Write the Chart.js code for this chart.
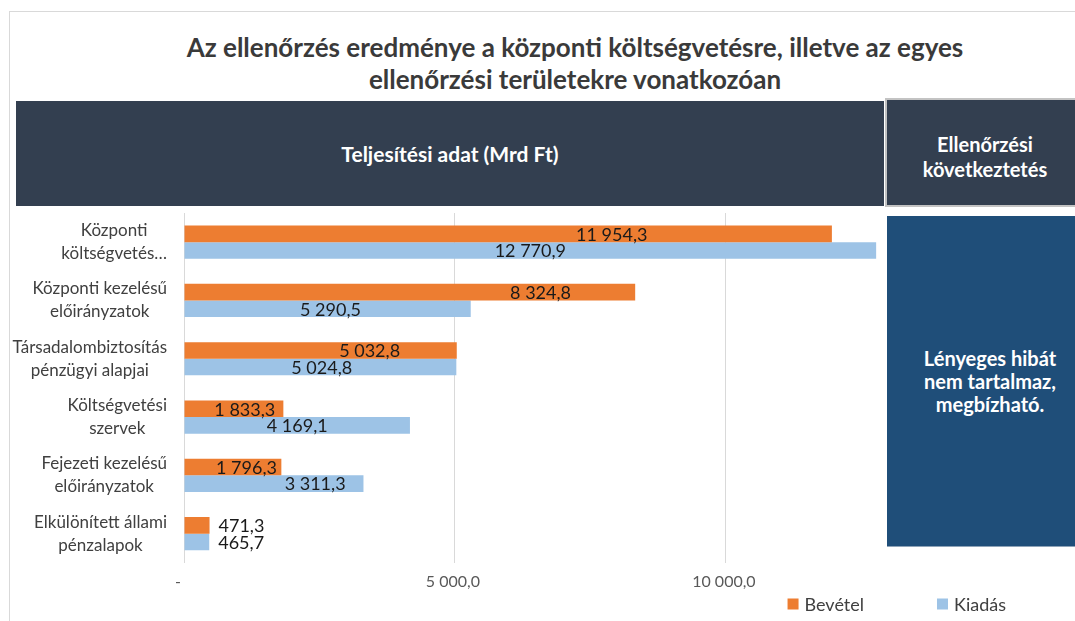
<!DOCTYPE html>
<html>
<head>
<meta charset="utf-8">
<script src="https://cdn.jsdelivr.net/npm/chart.js@4.4.0/dist/chart.umd.min.js"></script>
<style>
    html, body { margin: 0; padding: 0; background: #fff; width: 1075px; height: 621px; overflow: hidden; font-family: Lato, "Open Sans", sans-serif; }
    #frame { position: absolute; left: 9px; top: 11px; width: 1080px; height: 620px; border-left: 1px solid #d9d9d9; border-top: 1px solid #d9d9d9; }
    #title { position: absolute; left: 0; top: 31px; width: 1150px; text-align: center; font-size: 26px; font-weight: bold; line-height: 32px; color: #3a3a3a; }
    .box { position: absolute; color: #fff; font-weight: bold; text-align: center; display: flex; align-items: center; justify-content: center; z-index: 2; }
    #band { left: 16px; top: 101px; width: 868px; height: 105px; background: #333f50; font-size: 21px; }
    #head { left: 885px; top: 98px; width: 200px; height: 109px; background: #333f50; border: 2px solid #c3c3c3; font-size: 20px; line-height: 25px; padding-top: 8px; box-sizing: border-box; }
    #verdict { left: 887px; top: 216px; width: 206px; height: 330px; background: #1f4e79; border-bottom: 1px solid #8ea3b8; font-size: 20px; line-height: 23px; }
    #chart { position: absolute; left: 0; top: 205px; }
</style>
</head>
<body>
<div id="frame"></div>
<div id="title">Az ellenőrzés eredménye a központi költségvetésre, illetve az egyes<br>ellenőrzési területekre vonatkozóan</div>
<div id="band" class="box">Teljesítési adat (Mrd Ft)</div>
<div id="head" class="box">Ellenőrzési<br>következtetés</div>
<div id="verdict" class="box">Lényeges hibát<br>nem tartalmaz,<br>megbízható.</div>
<canvas id="chart" width="1075" height="416"></canvas>
<script>
const categories = [
    ["Központi", "költségvetés…"],
    ["Központi kezelésű", "előirányzatok"],
    ["Társadalombiztosítás", "pénzügyi alapjai"],
    ["Költségvetési", "szervek"],
    ["Fejezeti kezelésű", "előirányzatok"],
    ["Elkülönített állami", "pénzalapok"]
];
const bevetel = [11954.3, 8324.8, 5032.8, 1833.3, 1796.3, 471.3];
const kiadas = [12770.9, 5290.5, 5024.8, 4169.1, 3311.3, 465.7];
const xTicks = [0, 5000, 10000];

// hungarian number format: 11 954,3
function huFormat(v) {
    const parts = v.toFixed(1).split(".");
    return parts[0].replace(/\B(?=(\d{3})+(?!\d))/g, " ") + "," + parts[1];
}

/* category labels: lines centered, block right-aligned next to the axis */
const categoryLabels = {
    id: "categoryLabels",
    afterDraw(chart) {
        const { ctx } = chart;
        const y = chart.scales.y;
        ctx.save();
        ctx.font = "17px Lato";
        ctx.fillStyle = "#404040";
        ctx.textAlign = "center";
        ctx.textBaseline = "middle";
        chart.data.labels.forEach((lines, i) => {
            const yc = y.getPixelForValue(i);
            const w = Math.max(...lines.map(l => ctx.measureText(l).width));
            const xc = 167 - w / 2;
            lines.forEach((l, k) => ctx.fillText(l, xc, yc + (k - (lines.length - 1) / 2) * 23));
        });
        ctx.restore();
    }
};

/* value labels on the bars */
const barLabels = {
    id: "barLabels",
    afterDatasetsDraw(chart, args, opts) {
        const { ctx } = chart;
        ctx.save();
        ctx.font = "18px Lato";
        ctx.fillStyle = "#1a1a1a";
        ctx.textBaseline = "middle";
        chart.data.datasets.forEach((ds, di) => {
            chart.getDatasetMeta(di).data.forEach((bar, i) => {
                const text = huFormat(ds.data[i]);
                const f = opts.anchor[di][i];
                if (f === null) {
                    ctx.textAlign = "left";
                    ctx.fillText(text, bar.x + 9, bar.y + 1);
                } else {
                    ctx.textAlign = "center";
                    ctx.fillText(text, bar.base + f * (bar.x - bar.base), bar.y + 1);
                }
            });
        });
        ctx.restore();
    }
};

/* legend bottom right */
const bottomLegend = {
    id: "bottomLegend",
    afterDraw(chart) {
        const { ctx } = chart;
        ctx.save();
        ctx.font = "18px Lato";
        ctx.textBaseline = "middle";
        ctx.textAlign = "left";
        let x = 1006;
        const yc = 604 - 205;
        chart.data.datasets.slice().reverse().forEach(ds => {
            const w = ctx.measureText(ds.label).width;
            const tx = x - w;
            ctx.fillStyle = ds.backgroundColor;
            ctx.fillRect(tx - 17, yc - 5.5, 11, 11);
            ctx.fillStyle = "#404040";
            ctx.fillText(ds.label, tx, yc + 1);
            x = tx - 17 - 73;
        });
        ctx.restore();
    }
};

new Chart(document.getElementById("chart"), {
    type: "bar",
    data: {
        labels: categories,
        datasets: [
            { label: "Bevétel", data: bevetel, backgroundColor: "#ED7D31", categoryPercentage: 0.57, barPercentage: 1 },
            { label: "Kiadás", data: kiadas, backgroundColor: "#9DC3E6", categoryPercentage: 0.57, barPercentage: 1 }
        ]
    },
    plugins: [categoryLabels, barLabels, bottomLegend],
    options: {
        indexAxis: "y",
        responsive: false,
        animation: false,
        layout: { padding: { top: 8, right: 0, bottom: 21, left: 0 } },
        plugins: {
            legend: { display: false },
            tooltip: { enabled: false },
            barLabels: {
                anchor: [
                    [0.66, 0.79, 0.68, 0.61, 0.64, null],
                    [0.50, 0.51, 0.505, 0.50, 0.73, null]
                ]
            }
        },
        scales: {
            x: {
                min: 0,
                max: 16440,
                afterBuildTicks: s => { s.ticks = xTicks.map(v => ({ value: v })); },
                grid: { color: "#d9d9d9", drawTicks: false },
                border: { display: false },
                ticks: {
                    padding: 9,
                    maxRotation: 0,
                    color: "#595959",
                    font: { family: "Lato", size: 16 },
                    callback: v => v === 0 ? "-   " : huFormat(v) + " "
                }
            },
            y: {
                grid: { display: false },
                border: { display: false },
                ticks: { display: false },
                afterFit: s => { s.width = 184; }
            }
        }
    }
});
</script>
</body>
</html>
